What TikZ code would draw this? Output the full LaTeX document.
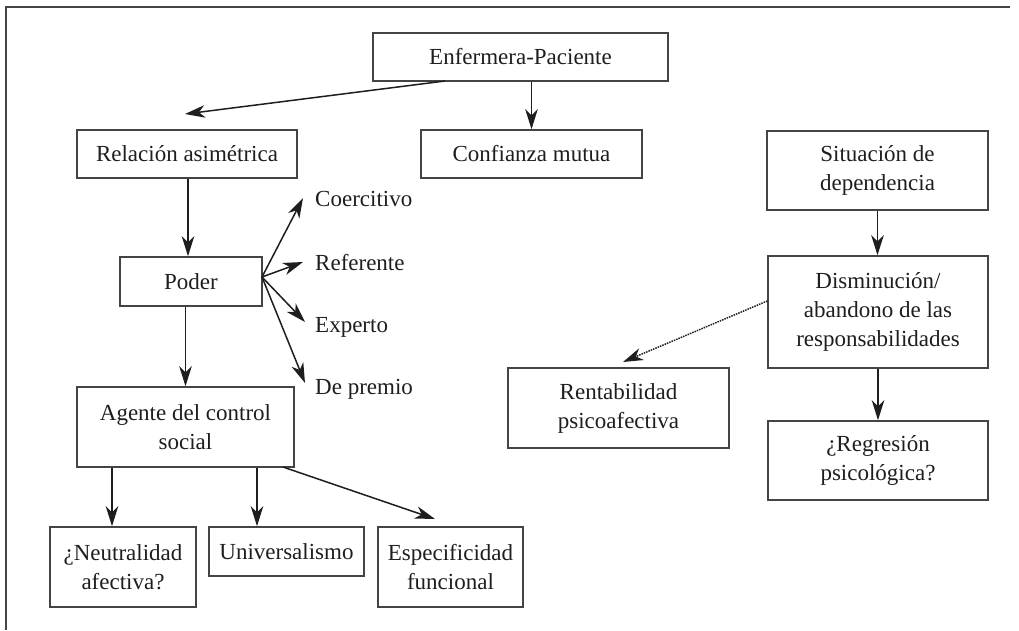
\documentclass[tikz,border=0pt]{standalone}
\usepackage{fontspec}
\setmainfont{Liberation Serif}
\usetikzlibrary{arrows.meta}
\definecolor{ink}{HTML}{1E1E1E}
\definecolor{rule}{HTML}{444444}
\begin{document}
\begin{tikzpicture}[x=1pt,y=-1pt,
  box/.style={draw=rule, line width=1.5pt, align=center, inner sep=0pt,
    font=\fontsize{23}{29}\selectfont, text=ink},
  lbl/.style={inner sep=0pt, anchor=base west, font=\fontsize{23}{29}\selectfont, text=ink},
  link/.style={draw=ink, line width=1.5pt, -{Stealth[length=20pt,width=12.5pt,inset=6pt]}},
  dotlink/.style={link, densely dotted}]
\useasboundingbox (0,0) rectangle (1019,630);
% outer frame (top and left edges only)
\draw[rule, line width=2pt] (6,630) -- (6,7) -- (1010,7);

% boxes
\node[box, minimum width=295pt, minimum height=48pt] (ep) at (520.5,57) {Enfermera-Paciente};
\node[box, minimum width=221pt, minimum height=48pt] (cm) at (531.5,154) {Confianza mutua};
\node[box, minimum width=220pt, minimum height=48pt] (ra) at (187,154) {Relación asimétrica};
\node[box, minimum width=142pt, minimum height=49pt] (pod) at (191,281.5) {Poder};
\node[box, minimum width=217pt, minimum height=80pt] (ag) at (185.5,427) {Agente del control\\social};
\node[box, minimum width=146pt, minimum height=80pt] (neu) at (123,567) {¿Neutralidad\\afectiva?};
\node[box, minimum width=155pt, minimum height=49pt] (uni) at (286.5,551.5) {Universalismo};
\node[box, minimum width=145pt, minimum height=80pt] (esp) at (450.5,567) {Especificidad\\funcional};
\node[box, minimum width=221pt, minimum height=79pt] (sd) at (877.5,170.5) {Situación de\\dependencia};
\node[box, minimum width=220pt, minimum height=112pt] (dis) at (878,312) {Disminución/\\abandono de las\\responsabilidades};
\node[box, minimum width=221pt, minimum height=80pt] (ren) at (618.5,408) {Rentabilidad\\psicoafectiva};
\node[box, minimum width=220pt, minimum height=79pt] (reg) at (878,460.5) {¿Regresión\\psicológica?};

% kinds of power
\node[lbl] (coe) at (315,206) {Coercitivo};
\node[lbl] (ref) at (315,270) {Referente};
\node[lbl] (exp) at (315,332) {Experto};
\node[lbl] (pre) at (315,394) {De premio};

% arrow end points
\coordinate (epa) at (445,81);
\coordinate (raa) at (185,114);
\coordinate (fan) at (262,277);
\coordinate (coet) at (303,198);
\coordinate (reft) at (303,262);
\coordinate (expt) at (305,322);
\coordinate (pret) at (305,383);
\coordinate (aga) at (283,467);
\coordinate (espt) at (435,519);
\coordinate (rent) at (623,362);

% connectors
\draw[link] (epa) -- (raa);
\draw[link] (cm.north |- ep.south) -- (cm.north);
\draw[link] ([xshift=1pt]ra.south) -- ([xshift=1pt]ra.south |- pod.north);
\draw[link] (ag.north |- pod.south) -- (ag.north);
\draw[link] (fan) -- (coet);
\draw[link] (fan) -- (reft);
\draw[link] (fan) -- (expt);
\draw[link] (fan) -- (pret);
\draw[link] ([xshift=-11pt]neu.north |- ag.south) -- ([xshift=-11pt]neu.north);
\draw[link] ([xshift=-29.5pt]uni.north |- ag.south) -- ([xshift=-29.5pt]uni.north);
\draw[link] (aga) -- (espt);
\draw[link] (sd.south) -- (sd.south |- dis.north);
\draw[link] (dis.south) -- (reg.north);
\draw[dotlink] ([yshift=11pt]dis.west) -- (rent);
\end{tikzpicture}
\end{document}
